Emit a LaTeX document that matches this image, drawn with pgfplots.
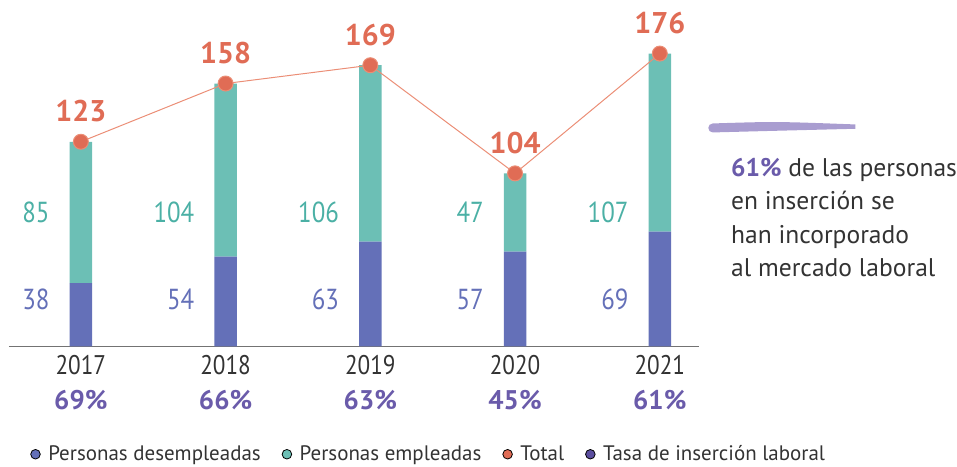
\documentclass[border=0pt]{standalone}
\usepackage{fontspec}
\setmainfont{PT Sans}
\newfontfamily\cond{PT Sans}[FakeStretch=0.86]
\usepackage{pgfplots}
\pgfplotsset{compat=1.18}

\definecolor{desempl}{HTML}{6470B8}
\definecolor{emple}{HTML}{6CBFB5}
\definecolor{total}{HTML}{E06C55}
\definecolor{totline}{HTML}{EB8E76}
\definecolor{tasa}{HTML}{5B4E9F}
\definecolor{pct}{HTML}{6A5BAA}
\definecolor{txt}{HTML}{333333}
\definecolor{brush}{HTML}{A99DD0}
\definecolor{lbemple}{HTML}{4BB0A5}

% 1 px of the reference = 0.5pt
\pgfplotsset{
  base/.style={
    x=72.5pt, y=0.8335pt,
    xmin=-0.4966, xmax=4.269, ymin=0, ymax=200,
    clip=false,
  },
}
\tikzset{vl/.style={anchor=east, inner sep=0pt, font=\cond\fontsize{14.5}{16}\selectfont}}
\newcommand{\pc}[1]{{\normalfont\bfseries\textcolor{pct}{#1\%}}}

\begin{document}
\begin{tikzpicture}
\begin{axis}[
    base,
    ybar stacked,
    bar width=11.25pt,
    axis x line*=bottom,
    axis y line=none,
    axis line style={draw=black!55, line width=0.7pt},
    xtick={0,1,2,3,4},
    xticklabels={
      {2017\\\pc{69}},
      {2018\\\pc{66}},
      {2019\\\pc{63}},
      {2020\\\pc{45}},
      {2021\\\pc{61}}},
    xticklabel style={align=center, text=txt, inner sep=0pt, yshift=-4.5pt,
      font=\cond\fontsize{13.5}{17.5}\selectfont},
    major tick length=0pt,
  ]
  % personas desempleadas
  \addplot[fill=desempl, draw=none] coordinates {(0,38) (1,54) (2,63) (3,57) (4,69)};
  % personas empleadas
  \addplot[fill=emple, draw=none] coordinates {(0,85) (1,104) (2,106) (3,47) (4,107)};

  % value labels to the left of the bars
  \node[vl, text=lbemple] at (axis cs:-0.214,80.4) {85};
  \node[vl, text=lbemple] at (axis cs:0.786,80.4) {104};
  \node[vl, text=lbemple] at (axis cs:1.786,80.4) {106};
  \node[vl, text=lbemple] at (axis cs:2.786,80.4) {47};
  \node[vl, text=lbemple] at (axis cs:3.786,80.4) {107};
  \node[vl, text=desempl] at (axis cs:-0.214,28.2) {38};
  \node[vl, text=desempl] at (axis cs:0.786,28.2) {54};
  \node[vl, text=desempl] at (axis cs:1.786,28.2) {63};
  \node[vl, text=desempl] at (axis cs:2.786,28.2) {57};
  \node[vl, text=desempl] at (axis cs:3.786,28.2) {69};

  % brush stroke and side note
  \fill[brush] (axis cs:4.366,134.0) .. controls (axis cs:4.8,135.2) .. (axis cs:5.352,133.4)
     -- (axis cs:5.352,130.8) .. controls (axis cs:4.8,129.6) .. (axis cs:4.366,128.6)
     arc[start angle=270, end angle=90, radius=2.25pt];
  \node[anchor=north west, inner sep=0pt, align=left, text=txt,
        font=\fontsize{12.8}{16.67}\selectfont] at (axis cs:4.49,113.2)
    {\textbf{\textcolor{pct}{61\%}} de las personas\\en inserción se\\han incorporado\\al mercado laboral};

  % picture frame 957x467 px
  \path (axis cs:-0.5586,-72) rectangle (axis cs:6.0414,208.2);
\end{axis}

\begin{axis}[
    base,
    hide axis,
    legend style={draw=none, fill=none, at={(axis cs:-0.352,-64.8)}, anchor=west,
      inner sep=0pt,
      font=\fontsize{10.5}{12}\selectfont, text=txt,
      nodes={inner sep=0pt},
      /tikz/every odd column/.append style={column sep=3.8pt},
      /tikz/every even column/.append style={column sep=10.5pt}},
    legend columns=4,
    legend cell align=left,
    legend image code/.code={\fill[#1] (0pt,0pt) circle (2.4pt);},
  ]
  \addplot[totline, line width=0.5pt, mark=*, mark size=3.75pt,
    mark options={fill=total, draw=none}, forget plot,
    nodes near coords={\pgfmathprintnumber[assume math mode=true]{\pgfplotspointmeta}},
    every node near coord/.append style={anchor=south, inner sep=0pt, yshift=9.5pt,
      text=total, font=\fontsize{15}{18}\selectfont\bfseries}]
    coordinates {(0,123) (1,158) (2,169) (3,104) (4,176)};
  \addlegendimage{fill=desempl}
  \addlegendentry{Personas desempleadas}
  \addlegendimage{fill=emple}
  \addlegendentry{Personas empleadas}
  \addlegendimage{fill=total}
  \addlegendentry{Total}
  \addlegendimage{fill=tasa}
  \addlegendentry{Tasa de inserción laboral}
\end{axis}
\end{tikzpicture}
\end{document}
